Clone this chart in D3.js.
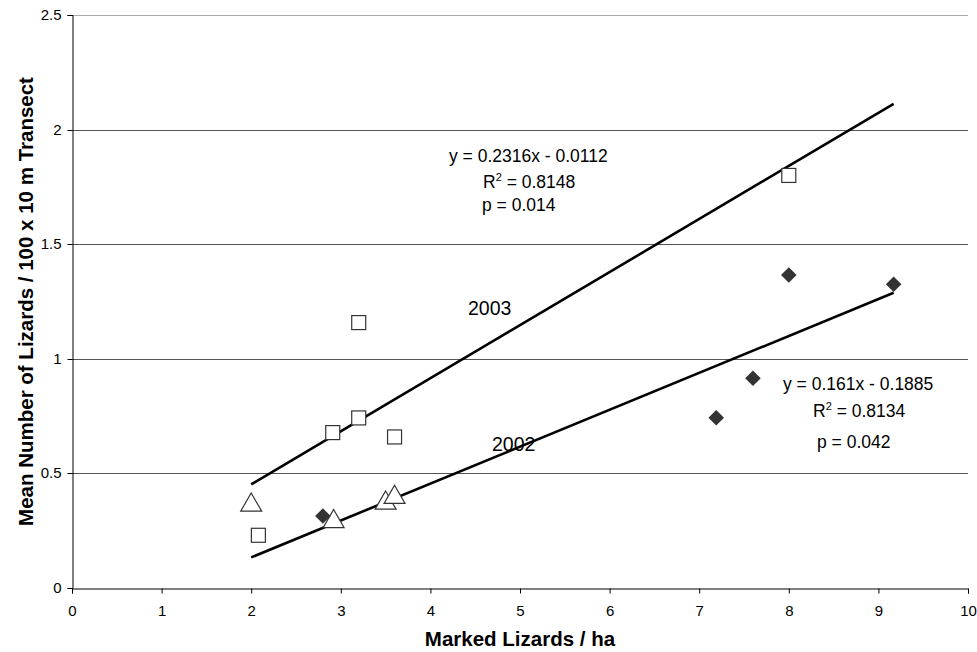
<!DOCTYPE html>
<html><head><meta charset="utf-8">
<script src="https://cdn.jsdelivr.net/npm/d3@7"></script>
<style>body{margin:0;background:#fff}svg{display:block}text{font-family:"Liberation Sans",Arial,sans-serif}</style>
</head><body><svg id="c" width="977" height="652"></svg>
<script>
const xTicks = [0,1,2,3,4,5,6,7,8,9,10];
const yTicks = [0,0.5,1,1.5,2,2.5];
const yTickLabels = ["0","0.5","1","1.5","2","2.5"];
const squaresX = [2.08, 2.91, 3.2, 3.6, 3.2, 8.0];
const squaresY = [0.23, 0.678, 0.742, 0.659, 1.158, 1.80];
const trianglesX = [2.0, 2.92, 3.5, 3.6];
const trianglesY = [0.366, 0.294, 0.375, 0.40];
const diamondsX = [2.8, 7.19, 7.6, 8.0, 9.17];
const diamondsY = [0.314, 0.743, 0.915, 1.366, 1.325];
const fit2003 = {slope:0.2316, intercept:-0.0112, x0:2.0, x1:9.17};
const fit2002 = {slope:0.161, intercept:-0.1885, x0:2.0, x1:9.17};
const eq2003 = ["y = 0.2316x - 0.0112","R² = 0.8148","p = 0.014"];
const eq2002 = ["y = 0.161x - 0.1885","R² = 0.8134","p = 0.042"];

const svg = d3.select("#c");
const x = d3.scaleLinear().domain([0,10]).range([72,968]);
const y = d3.scaleLinear().domain([0,2.5]).range([588,15]);

// gridlines
svg.append("g").selectAll("line").data(yTicks.filter(d=>d>0)).join("line")
  .attr("x1",x(0)).attr("x2",x(10))
  .attr("y1",d=>Math.round(y(d))+0.5).attr("y2",d=>Math.round(y(d))+0.5)
  .attr("stroke",d=>d===2.5?"#aaa":"#555").attr("stroke-width",1);

// axes
const ax = svg.append("g").attr("transform",`translate(0,${588.5})`)
  .call(d3.axisBottom(x).tickValues(xTicks).tickSize(5).tickPadding(12).tickFormat(d3.format("d")));
const ay = svg.append("g").attr("transform",`translate(${72.5},0)`)
  .call(d3.axisLeft(y).tickValues(yTicks).tickSize(5).tickPadding(6).tickFormat((d,i)=>yTickLabels[i]));
[ax,ay].forEach(a=>{a.select(".domain").attr("stroke","#000");
  a.selectAll(".tick line").attr("stroke","#000");
  a.selectAll("text").attr("font-size",15).attr("fill","#000").attr("font-family","Liberation Sans, Arial, sans-serif");});
ay.selectAll(".tick").attr("transform",d=>`translate(0,${Math.round(y(d))+0.5})`);

// trend lines
const line = d3.line().x(d=>x(d[0])).y(d=>y(d[1]));
[fit2003,fit2002].forEach(f=>{
  svg.append("path").attr("d",line([[f.x0,f.slope*f.x0+f.intercept],[f.x1,f.slope*f.x1+f.intercept]]))
    .attr("stroke","#000").attr("stroke-width",2.6).attr("fill","none");
});

// squares
svg.append("g").selectAll("rect").data(d3.range(squaresX.length)).join("rect")
  .attr("x",i=>x(squaresX[i])-7).attr("y",i=>y(squaresY[i])-7)
  .attr("width",14).attr("height",14).attr("fill","#fff").attr("stroke","#333").attr("stroke-width",1.2);

// triangles
const tri = d3.symbol().type(d3.symbolTriangle).size(190);
svg.append("g").selectAll("path").data(d3.range(trianglesX.length)).join("path")
  .attr("d",tri).attr("transform",i=>`translate(${x(trianglesX[i])},${y(trianglesY[i])+1})`)
  .attr("fill","#fff").attr("stroke","#333").attr("stroke-width",1.2);

// diamonds
svg.append("g").selectAll("rect").data(d3.range(diamondsX.length)).join("rect")
  .attr("x",-5.5).attr("y",-5.5).attr("width",11).attr("height",11)
  .attr("transform",i=>`translate(${x(diamondsX[i])},${y(diamondsY[i])}) rotate(45)`)
  .attr("fill","#333");

// annotations
const ann = svg.append("g").attr("font-size",17.5).attr("fill","#000");
function eq(lines, pos){
  lines.forEach((t,i)=>{
    const tx = ann.append("text").attr("x",pos[i][0]).attr("y",pos[i][1]);
    if(t.startsWith("R²")){
      tx.append("tspan").text("R");
      tx.append("tspan").text("2").attr("font-size",11).attr("dy",-7);
      tx.append("tspan").text(t.slice(2)).attr("dy",7);
    } else tx.text(t);
  });
}
eq(eq2003, [[449,162],[483,188],[482,211]]);
eq(eq2002, [[783,390],[813,417],[817,448]]);
ann.append("text").attr("x",468).attr("y",315).attr("font-size",19.5).text("2003");
ann.append("text").attr("x",492).attr("y",451).attr("font-size",19.5).text("2002");

// axis titles
svg.append("text").attr("x",x(5)).attr("y",646).attr("text-anchor","middle")
  .attr("font-size",20.5).attr("font-weight","bold").text("Marked Lizards / ha");
svg.append("text").attr("transform",`translate(33,301.5) rotate(-90)`).attr("text-anchor","middle")
  .attr("font-size",20.5).attr("font-weight","bold").text("Mean Number of Lizards / 100 x 10 m Transect");
</script></body></html>
